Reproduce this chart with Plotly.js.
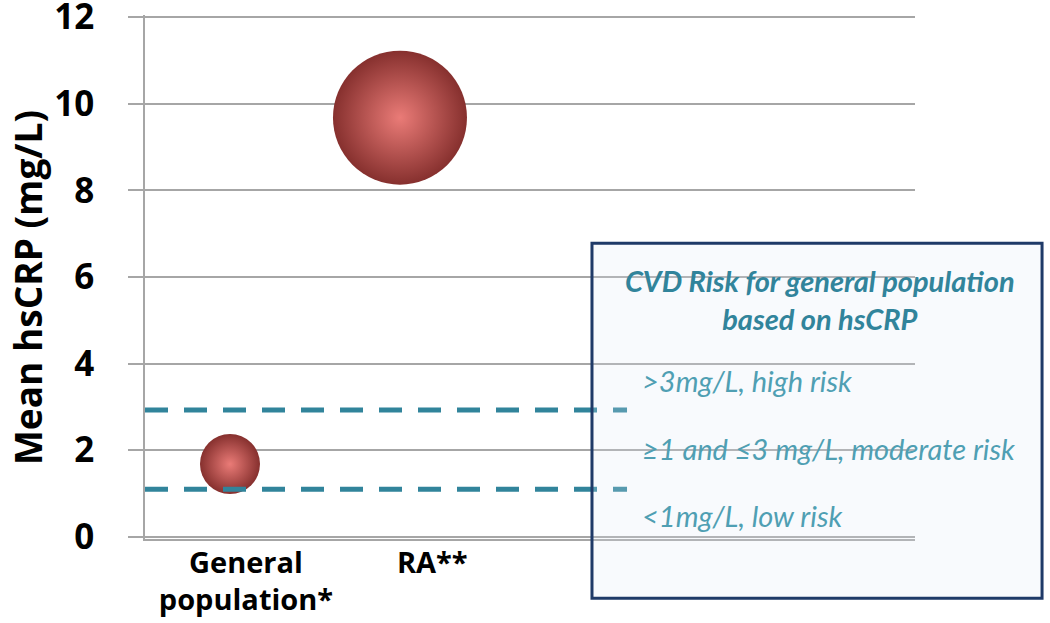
<!DOCTYPE html>
<html>
<head>
<meta charset="utf-8">
<script src="https://cdn.plot.ly/plotly-3.0.1.min.js"></script>
<style>html,body{margin:0;padding:0;background:#fff;}#chart{width:1050px;height:623px;}</style>
</head>
<body>
<div id="chart"></div>
<script>
// ---- data ----
const groups = ["General<br>population*", "RA**"];
const xVals = [1, 2];
const meanHsCRP = [1.68, 9.68];
const bubbleDiameter = [60, 134];
const riskThresholds = [1.1, 2.93];
const yTicks = [0, 2, 4, 6, 8, 10, 12];
const yTitle = "Mean hsCRP (mg/L)";
const boxTitle = "CVD Risk for general population<br>based on hsCRP";
const riskLabels = [">3mg/L, high risk", "\u22651 and \u22643 mg/L, moderate risk", "<1mg/L, low risk"];

const FONT = "Lato, 'Open Sans', sans-serif";
const BFONT = "'Open Sans', Lato, sans-serif";
const grid = "#a6a6a6";

const trace = {
  type: "scatter", mode: "markers",
  x: xVals, y: meanHsCRP,
  marker: {
    size: bubbleDiameter, sizemode: "diameter",
    opacity: 1,
    color: "#86302e",
    gradient: {type: "radial", color: "#ea7b77"},
    line: {width: 0}
  },
  hoverinfo: "x+y", showlegend: false
};

const shapes = riskThresholds.map(v => ({
  type: "line", xref: "paper", yref: "y",
  x0: 0, x1: 0.626, y0: v, y1: v,
  line: {color: "#31849b", width: 5, dash: "23px,16px"},
  layer: "above"
}));
shapes.push({
  type: "rect", xref: "paper", yref: "paper",
  x0: 0.5805, x1: 1.165, y0: -0.113, y1: 0.5645,
  line: {color: "#1f3a68", width: 3},
  fillcolor: "rgba(222,232,244,0.22)",
  layer: "above"
});

const itemY = [0.3017, 0.1726, 0.0456];
const annotations = [{
  xref: "paper", yref: "paper", x: -0.1532, y: 0.479,
  text: yTitle, showarrow: false, textangle: -90,
  xanchor: "center", yanchor: "middle",
  font: {family: BFONT, size: 37, color: "#000", weight: "bold"}
}, {
  xref: "paper", yref: "paper", x: 0.8766, y: 0.4577,
  text: boxTitle, showarrow: false, xanchor: "center", yanchor: "middle",
  font: {family: FONT, size: 29, color: "#31849b", weight: "bold", style: "italic"}
}].concat(riskLabels.map((t, i) => ({
  xref: "paper", yref: "paper", x: 0.643, y: itemY[i],
  text: t, showarrow: false, xanchor: "left", yanchor: "middle",
  font: {family: FONT, size: 29, color: "#4f9fb3", style: "italic"}
})));

const layout = {
  width: 1050, height: 623,
  margin: {l: 145, r: 135, t: 15, b: 84},
  paper_bgcolor: "#ffffff", plot_bgcolor: "#ffffff",
  xaxis: {
    range: [0.5, 5.03],
    tickvals: [1.094, 2.19], ticktext: groups,
    showgrid: false, zeroline: false,
    showline: true, linecolor: grid, linewidth: 1.5,
    ticks: "", ticklabelstandoff: -3,
    tickfont: {family: BFONT, size: 29, color: "#000", weight: "bold"}
  },
  yaxis: {
    range: [-0.05, 12.05], tickvals: yTicks,
    showgrid: true, gridcolor: grid, gridwidth: 1.5, zeroline: false,
    showline: true, linecolor: grid, linewidth: 1.5,
    ticks: "outside", ticklen: 15, tickcolor: grid, tickwidth: 1.5,
    ticklabelstandoff: 27, ticklabeloverflow: "allow",
    tickfont: {family: BFONT, size: 35, color: "#000", weight: "bold"}
  },
  shapes: shapes,
  annotations: annotations
};

Plotly.newPlot("chart", [trace], layout, {displayModeBar: false});
</script>
</body>
</html>
